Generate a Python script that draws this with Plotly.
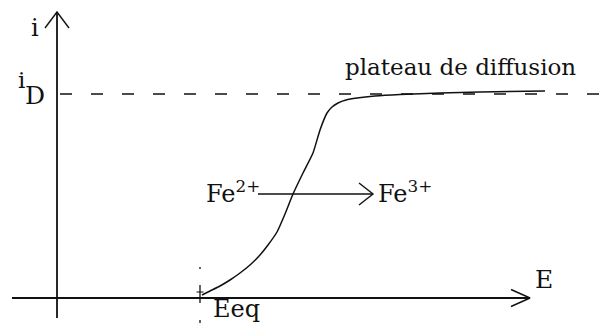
import plotly.graph_objects as go

# Current-potential curve for the oxidation Fe2+ -> Fe3+ (arbitrary units)
E_curve = [1.45, 1.53, 1.63, 1.73, 1.83, 1.93, 2.03, 2.11, 2.20, 2.28, 2.36, 2.46,
           2.56, 2.63, 2.70, 2.75, 2.81, 2.89, 3.00, 3.18, 3.43, 3.83, 4.23, 4.88]
i_curve = [0.03, 0.07, 0.12, 0.18, 0.25, 0.33, 0.43, 0.53, 0.66, 0.84, 1.04, 1.25,
           1.45, 1.68, 1.85, 1.91, 1.95, 1.98, 2.00, 2.02, 2.035, 2.05, 2.06, 2.07]

i_D = 2.04          # diffusion-limited current (plateau)
E_eq = 1.43         # equilibrium potential
E_axis = [-0.45, 4.73]   # extent of the E axis
i_axis = [-0.20, 2.86]   # extent of the i axis
E_reaction = [2.01, 3.16]  # Fe2+ -> Fe3+ arrow
i_reaction = 1.04
i_eq_mark = [0.31, -0.26]  # dotted mark at E_eq (drawn top to bottom)
E_dash_start = 0.03
E_view = [-0.57, 5.56]
i_view = [-0.26, 2.98]

FONT = "DejaVu Serif"
INK = "#111111"

fig = go.Figure()

def seg(xs, ys, width=1.6, dash="solid", color=INK):
    fig.add_trace(go.Scatter(x=xs, y=ys, mode="lines", hoverinfo="skip",
                             line=dict(color=color, width=width, dash=dash),
                             showlegend=False))

def chevron(tx, ty, dx, dy, width=1.4):
    # open arrow head at (tx, ty); dx, dy give back-length and half-spread
    if dx == 0:
        seg([tx - dy[1], tx, tx + dy[1]], [ty - dy[0], ty, ty - dy[0]], width)
    else:
        seg([tx - dx[0], tx, tx - dx[0]], [ty + dx[1], ty, ty - dx[1]], width)

# axes
seg(E_axis, [0, 0], 1.8)
seg([0, 0], i_axis, 1.8)
chevron(0, i_axis[1], 0, (0.16, 0.12))
chevron(E_axis[1], 0, (0.19, 0.085), 0)

# diffusion plateau level
seg([E_dash_start, E_view[1]], [i_D, i_D], 1.5, "12px,19px")

# equilibrium potential mark
seg([E_eq, E_eq], i_eq_mark, 1.3, "2px,16px,18px,17px,3px,20px")
seg([E_eq - 0.035, E_eq + 0.035], [0.06, 0.06], 1.0)

# i-E curve
fig.add_trace(go.Scatter(x=E_curve, y=i_curve, mode="lines", hoverinfo="skip",
                         line=dict(color=INK, width=1.5, shape="spline", smoothing=0.5),
                         showlegend=False))

# reaction arrow
seg(E_reaction, [i_reaction, i_reaction], 1.6)
chevron(E_reaction[1], i_reaction, (0.14, 0.11), 0)

def label(x, y, text, size=24, xanchor="center", yanchor="middle"):
    fig.add_annotation(x=x, y=y, text=text, showarrow=False, xanchor=xanchor,
                       yanchor=yanchor, borderpad=0,
                       font=dict(family=FONT, size=size, color=INK))

label(-0.22, 2.70, "i")
label(-0.36, 2.18, "i", size=23)
label(-0.22, 2.03, "D", size=25)
label(4.03, 2.31, "plateau de diffusion", size=23)
label(1.48, 1.06, "Fe<sup>2+</sup>", xanchor="left")
label(3.20, 1.06, "Fe<sup>3+</sup>", xanchor="left")
label(4.87, 0.19, "E", size=25)
label(1.55, -0.11, "Eeq", xanchor="left")

fig.update_layout(
    width=613, height=324,
    margin=dict(l=0, r=0, t=0, b=0),
    paper_bgcolor="white", plot_bgcolor="white",
    font=dict(family=FONT),
    xaxis=dict(range=E_view, visible=False, fixedrange=True),
    yaxis=dict(range=i_view, visible=False, fixedrange=True),
)

fig.write_html("out.html")
